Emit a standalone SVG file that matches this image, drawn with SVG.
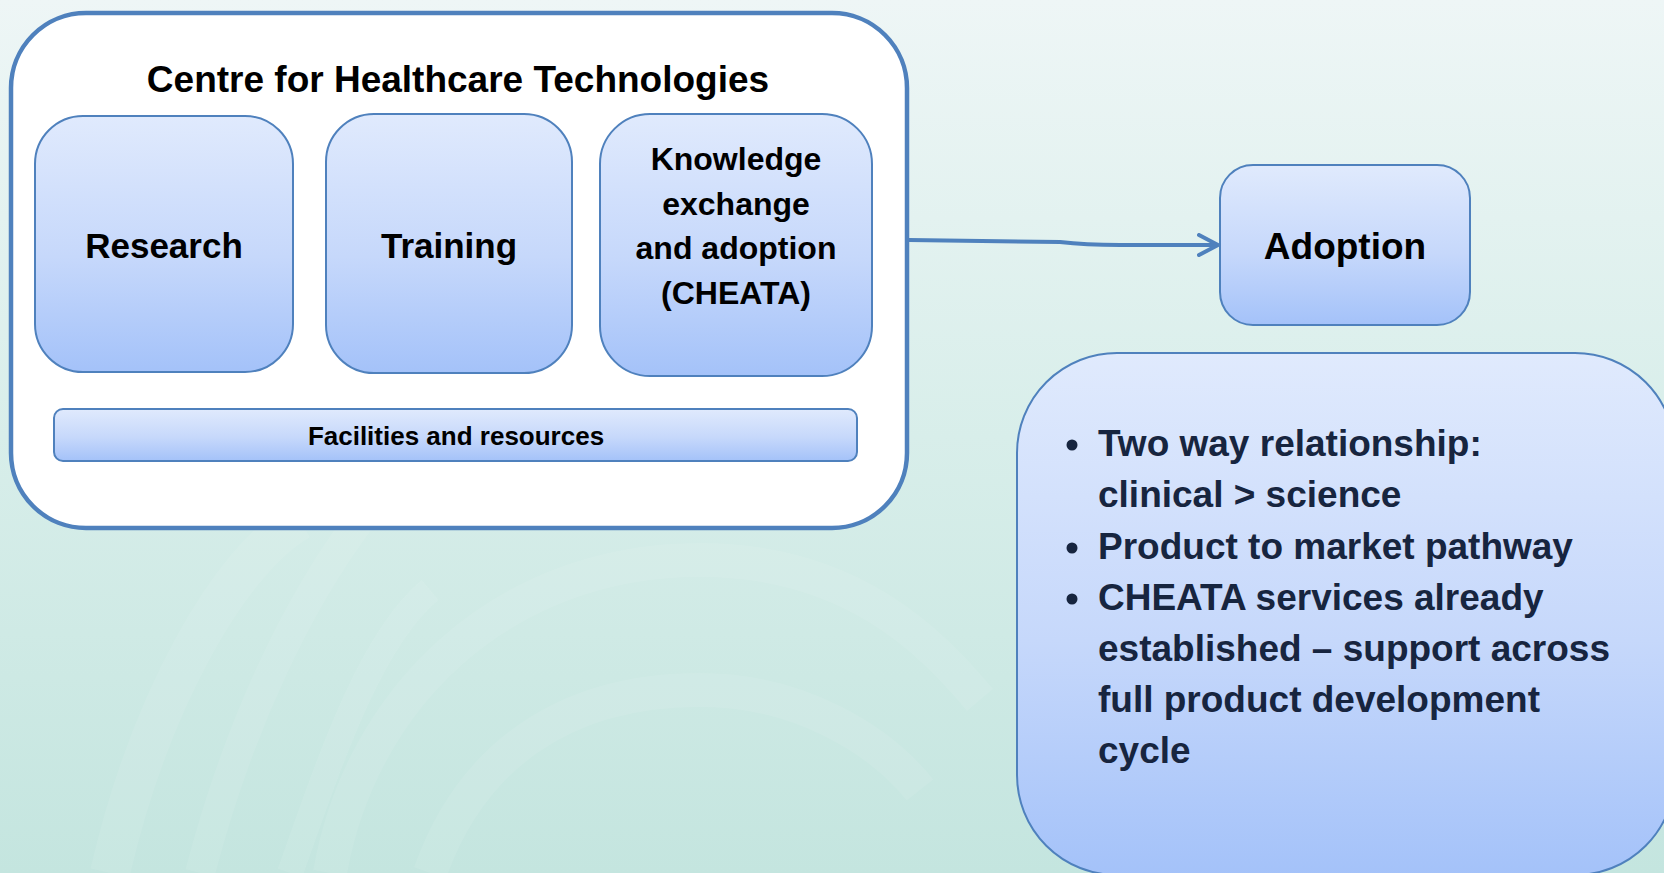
<svg xmlns="http://www.w3.org/2000/svg" width="1664" height="873" viewBox="0 0 1664 873">
<defs>
<linearGradient id="bg" x1="0" y1="0" x2="0" y2="1">
<stop offset="0" stop-color="#eef6f6"/>
<stop offset="0.5" stop-color="#d8eeea"/>
<stop offset="1" stop-color="#c4e5df"/>
</linearGradient>
<linearGradient id="box" x1="0" y1="0" x2="0" y2="1">
<stop offset="0" stop-color="#e0eafd"/>
<stop offset="0.55" stop-color="#c6d8fb"/>
<stop offset="1" stop-color="#a4c2f9"/>
</linearGradient>
<marker id="chev" viewBox="0 0 24 24" refX="21" refY="12" markerWidth="24" markerHeight="24" markerUnits="userSpaceOnUse" orient="auto">
<path d="M2,2 L21,12 L2,22" fill="none" stroke="#4f81bd" stroke-width="4" stroke-linecap="round" stroke-linejoin="round"/>
</marker>
<style>
.node{fill:url(#box);stroke:#4f81bd;stroke-width:2}
.lbl{font-family:"Liberation Sans",Arial,sans-serif;font-weight:bold;fill:#000;text-anchor:middle}
.bul{font-family:"Liberation Sans",Arial,sans-serif;font-weight:bold;fill:#17253f;font-size:37px}
.arc{fill:none;stroke:#ffffff;stroke-opacity:0.08}
</style>
</defs>
<rect x="0" y="0" width="1664" height="873" fill="url(#bg)"/>
<g id="background-arcs">
<path class="arc" d="M110,873 C150,700 230,560 300,520" stroke-width="40"/>
<path class="arc" d="M200,873 C240,720 300,600 360,520" stroke-width="30"/>
<path class="arc" d="M290,873 C330,760 370,640 430,590" stroke-width="26"/>
<path class="arc" d="M330,873 C360,700 500,560 700,560 C850,560 930,640 980,700" stroke-width="34"/>
<path class="arc" d="M430,873 C470,760 560,690 700,690 C800,690 880,740 920,790" stroke-width="34"/>
</g>
<g id="centre">
<rect x="11" y="13" width="896" height="515" rx="75" ry="75" fill="#ffffff" stroke="#4f81bd" stroke-width="4.5"/>
<text class="lbl" x="458" y="92" font-size="37">Centre for Healthcare Technologies</text>
</g>
<g id="research">
<rect class="node" x="35" y="116" width="258" height="256" rx="48" ry="48"/>
<text class="lbl" x="164" y="258" font-size="35">Research</text>
</g>
<g id="training">
<rect class="node" x="326" y="114" width="246" height="259" rx="48" ry="48"/>
<text class="lbl" x="449" y="258" font-size="35">Training</text>
</g>
<g id="knowledge">
<rect class="node" x="600" y="114" width="272" height="262" rx="50" ry="50"/>
<text class="lbl" font-size="32"><tspan x="736" y="170">Knowledge</tspan><tspan x="736" y="214.5">exchange</tspan><tspan x="736" y="259">and adoption</tspan><tspan x="736" y="303.5">(CHEATA)</tspan></text>
</g>
<g id="facilities">
<rect class="node" x="54" y="409" width="803" height="52" rx="9" ry="9"/>
<text class="lbl" x="456" y="445" font-size="26">Facilities and resources</text>
</g>
<g id="adoption">
<rect class="node" x="1220" y="165" width="250" height="160" rx="33" ry="33"/>
<text class="lbl" x="1345" y="259" font-size="37">Adoption</text>
</g>
<g id="details">
<rect class="node" x="1017" y="353" width="658" height="522" rx="100" ry="100"/>
<circle cx="1072" cy="445" r="5.5" fill="#17253f"/>
<circle cx="1072" cy="548" r="5.5" fill="#17253f"/>
<circle cx="1072" cy="599" r="5.5" fill="#17253f"/>
<text class="bul"><tspan x="1098" y="456">Two way relationship:</tspan><tspan x="1098" y="507">clinical &gt; science</tspan><tspan x="1098" y="559">Product to market pathway</tspan><tspan x="1098" y="610">CHEATA services already</tspan><tspan x="1098" y="661">established – support across</tspan><tspan x="1098" y="712">full product development</tspan><tspan x="1098" y="763">cycle</tspan></text>
</g>
<g id="connectors">
<path d="M909,240 L1060,242 C1085,245 1100,245 1120,245 L1218,245" fill="none" stroke="#4f81bd" stroke-width="4" marker-end="url(#chev)"/>
</g>
</svg>
